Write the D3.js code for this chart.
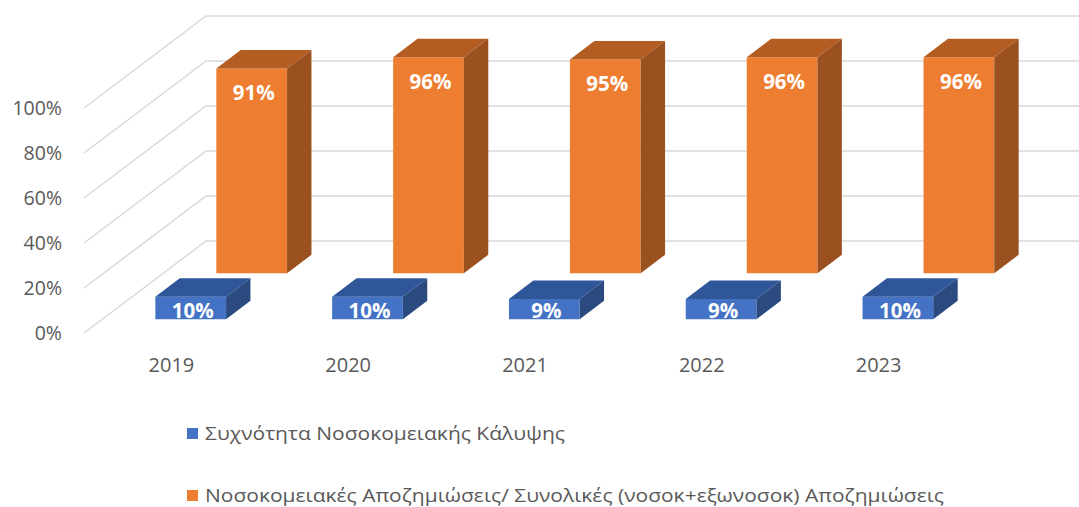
<!DOCTYPE html>
<meta charset="utf-8">
<style>
  body { margin: 0; background: #fff; }
  svg text { font-family: "Open Sans", "Noto Sans", sans-serif; }
</style>
<svg id="chart" width="1079" height="507"></svg>
<script src="https://cdn.jsdelivr.net/npm/d3@7"></script>
<script>

// data
var years = ["2019", "2020", "2021", "2022", "2023"];
var seriesNames = ["Συχνότητα Νοσοκομειακής Κάλυψης",
                   "Νοσοκομειακές Αποζημιώσεις/ Συνολικές (νοσοκ+εξωνοσοκ) Αποζημιώσεις"];
var coverage = [0.10, 0.10, 0.09, 0.09, 0.10];
var hospitalShare = [0.91, 0.96, 0.95, 0.96, 0.96];
var yTicks = [0, 0.2, 0.4, 0.6, 0.8, 1.0];

var colors = [
    {front: "#4472c4", top: "#30569a", side: "#2a4a80"},
    {front: "#ed7d31", top: "#b45d23", side: "#9a501f"}
];

var width = 1079, height = 507;
var svg = d3.select("#chart");

// front plane scales
var x = d3.scaleBand().domain(years).range([84, 968]).paddingInner(0.6).paddingOuter(0.3);
var xCat = d3.scaleBand().domain(years).range([84, 968]);
var y = d3.scaleLinear().domain([0, 1]).range([333, 108]);
// depth goes back up and to the right
var depthX = d3.scaleLinear().domain([0, 1]).range([0, 122]);
var depthY = d3.scaleLinear().domain([0, 1]).range([0, -92]);
var row = d3.scaleBand().domain([0, 1]).range([0, 1]).paddingInner(0.6).paddingOuter(0.3);

function project(px, v, d) {
    return [px + depthX(d), y(v) + depthY(d)];
}

var grid = svg.append("g");
var xEnd = xCat.range()[1];
yTicks.forEach(function (t) {
    var a = project(x.range()[0], t, 0),
        b = project(x.range()[0], t, 1),
        c = project(xEnd, t, 1);
    grid.append("polyline")
        .attr("points", [a, b, c].map(function (p) { return p.join(","); }).join(" "))
        .attr("fill", "none")
        .attr("stroke", "#d9d9d9")
        .attr("stroke-width", 1.5);
});

// y axis labels
svg.append("g").selectAll("text")
    .data(yTicks)
    .join("text")
    .attr("x", 62)
    .attr("y", function (d) { return y(d); })
    .attr("dy", "0.35em")
    .attr("text-anchor", "end")
    .attr("fill", "#595959")
    .style("font-size", "19.5px")
    .text(d3.format(".0%"));

// category labels
svg.append("g").selectAll("text")
    .data(years)
    .join("text")
    .attr("x", function (d) { return xCat(d) + xCat.bandwidth() / 2 - 1; })
    .attr("y", 372)
    .attr("text-anchor", "middle")
    .attr("fill", "#595959")
    .style("font-size", "20px")
    .text(function (d) { return d; });

function poly(pts) {
    return pts.map(function (p) { return p.join(","); }).join(" ");
}

// back row first, then front row
[1, 0].forEach(function (s) {
    var vals = s === 0 ? coverage : hospitalShare;
    var d0 = row(s), d1 = row(s) + row.bandwidth();
    var g = svg.append("g");
    years.forEach(function (yr, i) {
        var v = vals[i];
        var x0 = x(yr), x1 = x(yr) + x.bandwidth();
        g.append("polygon")
            .attr("points", poly([project(x0, 0, d0), project(x1, 0, d0), project(x1, v, d0), project(x0, v, d0)]))
            .attr("fill", colors[s].front);
        g.append("polygon")
            .attr("points", poly([project(x0, v, d0), project(x1, v, d0), project(x1, v, d1), project(x0, v, d1)]))
            .attr("fill", colors[s].top);
        g.append("polygon")
            .attr("points", poly([project(x1, 0, d0), project(x1, 0, d1), project(x1, v, d1), project(x1, v, d0)]))
            .attr("fill", colors[s].side);

        var top = project(x0, v, d0)[1], bottom = project(x0, 0, d0)[1];
        g.append("text")
            .attr("x", (x0 + x1) / 2 + depthX(d0) + 2)
            .attr("y", Math.min(top + 32, bottom - 1))
            .attr("text-anchor", "middle")
            .attr("fill", "#fff")
            .style("font-size", "20.5px")
            .style("font-weight", "bold")
            .text(d3.format(".0%")(v));
    });
});

// legend
var legend = svg.append("g");
var legendY = [433, 495];
var legendW = [360, 739];
seriesNames.forEach(function (name, i) {
    legend.append("rect")
        .attr("x", 187)
        .attr("y", legendY[i] - 5)
        .attr("width", 11)
        .attr("height", 11)
        .attr("fill", colors[i].front);
    legend.append("text")
        .attr("x", 205)
        .attr("y", legendY[i])
        .attr("dy", "0.35em")
        .attr("fill", "#595959")
        .attr("textLength", legendW[i])
        .attr("lengthAdjust", "spacingAndGlyphs")
        .style("font-size", "19px")
        .text(name);
});

</script>
